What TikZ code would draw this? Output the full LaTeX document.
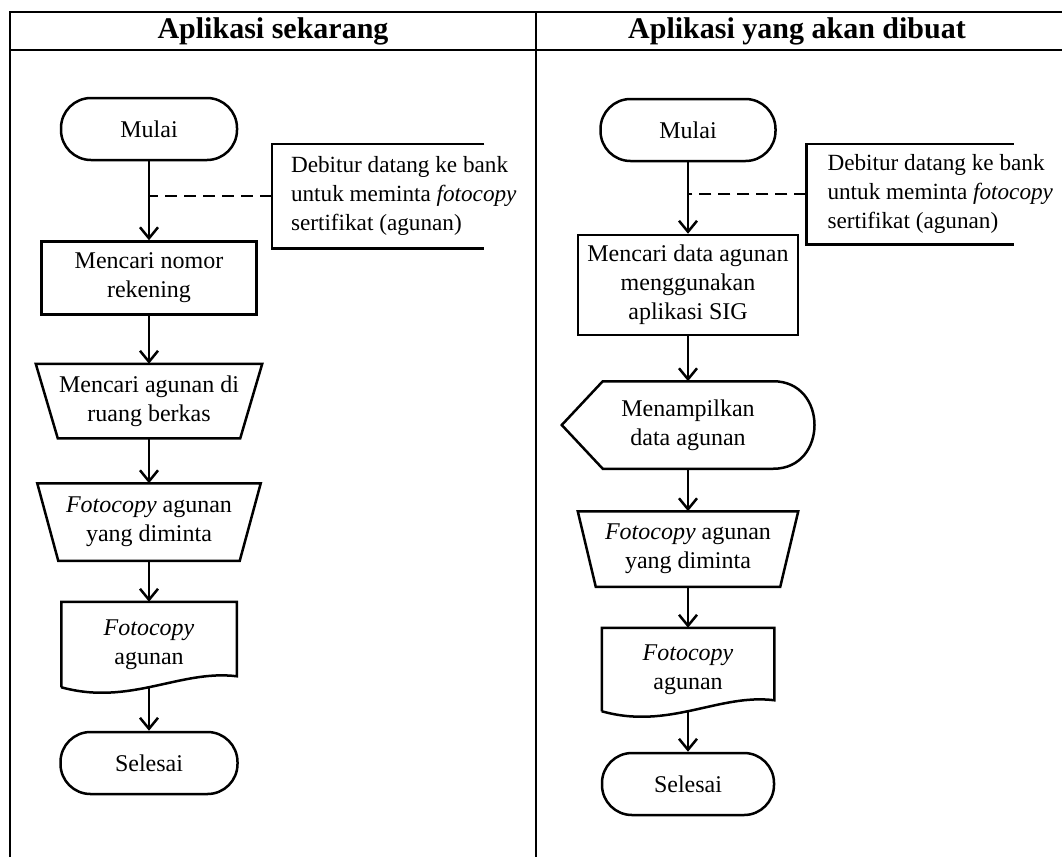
\documentclass[tikz,border=0pt]{standalone}
\usepackage{fontspec}
\setmainfont{Liberation Serif}
\usetikzlibrary{arrows.meta,calc}

\begin{document}
\begin{tikzpicture}[x=1pt,y=-1pt,line width=2.5pt,
    every node/.style={font=\fontsize{24}{29}\selectfont,inner sep=0pt,align=center},
    head/.style={font=\fontsize{30}{36}\selectfont\bfseries},
    term/.style={draw,rounded corners=30pt,minimum width=#1,minimum height=62pt},
    proc/.style={draw,minimum width=#1},
    arr/.style={-{Straight Barb[length=11pt,width=18pt]}},
    note/.style={align=left,anchor=west,font=\fontsize{23.2}{29}\selectfont},
    dashline/.style={dash pattern=on 12pt off 7pt}]
    \useasboundingbox (0,0) rectangle (1062,857);

    \draw (10,857) -- (10,12) -- (1062,12);
    \draw (10,50) -- (1062,50);
    \draw (536,12) -- (536,857);
    \node[head] (h1) at (273,31) {Aplikasi sekarang};
    \node[head] (h2) at (797,31) {Aplikasi yang akan dibuat};

    \node[term=176pt] (mulai1) at (149,129) {Mulai};
    \node[proc=215pt,minimum height=73pt] (cari1) at (149,278) {Mencari nomor\\rekening};
    \node[minimum width=224pt,minimum height=72pt] (trap1) at (149,401) {Mencari agunan di\\ruang berkas};
    \draw (trap1.north west) -- (trap1.north east) -- ($(trap1.south east)+(-22,0)$) -- ($(trap1.south west)+(22,0)$) -- cycle;
    \node[minimum width=221pt,minimum height=75pt] (trap2) at (149,522) {\textit{Fotocopy} agunan\\yang diminta};
    \draw (trap2.north west) -- (trap2.north east) -- ($(trap2.south east)+(-21,0)$) -- ($(trap2.south west)+(21,0)$) -- cycle;
    \node[minimum width=173pt,minimum height=84pt] (doc1) at (149,645) {\textit{Fotocopy}\\agunan};
    \draw ($(doc1.south west)+(0,-1)$) -- (doc1.north west) -- (doc1.north east) -- ($(doc1.south east)+(0,-12)$)
        .. controls ($(doc1.south)+(31,-19)$) and ($(doc1.south)+(-19,18)$) .. ($(doc1.south west)+(0,-1)$);
    \node[term=177pt] (sel1) at (149,763) {Selesai};

    \node[minimum width=210pt,minimum height=102pt] (brk1) at (378,196) {};
    \draw (brk1.north east) -- (brk1.north west) -- (brk1.south west) -- (brk1.south east);
    \node[note] (ket1) at ($(brk1.west)+(18,0)$) {Debitur datang ke bank\\untuk meminta \textit{fotocopy}\\sertifikat (agunan)};
    \draw[dashline] (brk1.west) -- (brk1.west -| mulai1);

    \draw[arr] (mulai1) -- (cari1);
    \draw[arr] (cari1) -- (trap1);
    \draw[arr] (trap1) -- (trap2);
    \draw[arr] (trap2) -- (doc1);
    \draw[arr] (doc1) -- (sel1);

    \node[term=175pt] (mulai2) at (688,130) {Mulai};
    \node[proc=220pt,minimum height=100pt] (cari2) at (688,285) {Mencari data agunan\\menggunakan\\aplikasi SIG};
    \node[minimum width=250pt,minimum height=85pt] (disp) at (688,425) {Menampilkan\\data agunan};
    \draw (disp.west) -- ($(disp.north west)+(41,0)$) -- ($(disp.north east)+(-41,0)$)
        .. controls ($(disp.north east)+(14,0)$) and ($(disp.south east)+(14,0)$) .. ($(disp.south east)+(-41,0)$)
        -- ($(disp.south west)+(41,0)$) -- cycle;
    \node[minimum width=218pt,minimum height=73pt] (trap3) at (688,549) {\textit{Fotocopy} agunan\\yang diminta};
    \draw (trap3.north west) -- (trap3.north east) -- ($(trap3.south east)+(-18,0)$) -- ($(trap3.south west)+(18,0)$) -- cycle;
    \node[minimum width=170pt,minimum height=82pt] (doc2) at (688,670) {\textit{Fotocopy}\\agunan};
    \draw ($(doc2.south west)+(0,-1)$) -- (doc2.north west) -- (doc2.north east) -- ($(doc2.south east)+(0,-12)$)
        .. controls ($(doc2.south)+(31,-19)$) and ($(doc2.south)+(-19,18)$) .. ($(doc2.south west)+(0,-1)$);
    \node[term=172pt] (sel2) at (688,784) {Selesai};

    \node[minimum width=205pt,minimum height=98pt] (brk2) at (910,194) {};
    \draw (brk2.north east) -- (brk2.north west) -- (brk2.south west) -- (brk2.south east);
    \node[note] (ket2) at ($(brk2.west)+(20,0)$) {Debitur datang ke bank\\untuk meminta \textit{fotocopy}\\sertifikat (agunan)};
    \draw[dashline] (brk2.west) -- (brk2.west -| mulai2);

    \draw[arr] (mulai2) -- (cari2);
    \draw[arr] (cari2) -- (disp);
    \draw[arr] (disp) -- (trap3);
    \draw[arr] (trap3) -- (doc2);
    \draw[arr] (doc2) -- (sel2);
\end{tikzpicture}
\end{document}
